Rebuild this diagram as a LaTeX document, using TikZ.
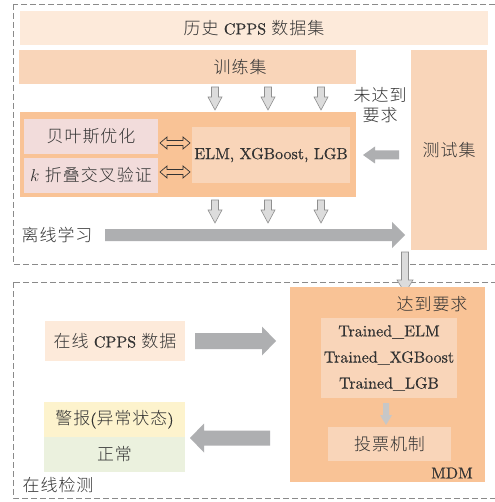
\documentclass[tikz,border=0pt]{standalone}
\usepackage{fontspec}
\setmainfont{lmroman10-regular.otf}[ItalicFont=lmroman10-italic.otf,FakeBold=0.5]
\newfontfamily\cjk[Scale=1.06,LetterSpace=6]{Noto Sans CJK SC Light}
\definecolor{txt}{HTML}{333333}
\definecolor{peachL}{HTML}{FDEADA}
\definecolor{peach}{HTML}{F9D5B9}
\definecolor{orng}{HTML}{F9C396}
\definecolor{pinkb}{HTML}{F2DCDB}
\definecolor{yelb}{HTML}{FDF3CD}
\definecolor{grnb}{HTML}{EBF1DE}
\definecolor{bigarr}{HTML}{AEAFB1}
\definecolor{smallfill}{HTML}{DCDCDC}
\definecolor{smallline}{HTML}{8F8F8F}
\definecolor{dashc}{HTML}{8A8A8A}
\newcommand\DownArr[7]{%
  \path[#7] ({#1-#4},{-#2}) -- ({#1+#4},{-#2}) -- ({#1+#4},{-(#3-#6)}) -- ({#1+#5},{-(#3-#6)}) -- ({#1},{-#3}) -- ({#1-#5},{-(#3-#6)}) -- ({#1-#4},{-(#3-#6)}) -- cycle;}
\newcommand\HArr[7]{%
  \path[#7] ({#1},{-(#3-#4)}) -- ({#2-#6},{-(#3-#4)}) -- ({#2-#6},{-(#3-#5)}) -- ({#2},{-#3}) -- ({#2-#6},{-(#3+#5)}) -- ({#2-#6},{-(#3+#4)}) -- ({#1},{-(#3+#4)}) -- cycle;}
\newcommand\DblArr[6]{% x1 x2 y sw hw hl
  \path[dblarr] ({#1},{-#3}) -- ({#1+#6},{-(#3-#5)}) -- ({#1+#6},{-(#3-#4)}) -- ({#2-#6},{-(#3-#4)}) -- ({#2-#6},{-(#3-#5)}) -- ({#2},{-#3}) -- ({#2-#6},{-(#3+#5)}) -- ({#2-#6},{-(#3+#4)}) -- ({#1+#6},{-(#3+#4)}) -- ({#1+#6},{-(#3+#5)}) -- cycle;}
\begin{document}
\begin{tikzpicture}[x=1pt,y=1pt,
  every node/.style={inner sep=0pt,outer sep=0pt,text=txt,font=\fontsize{16}{19}\selectfont},
  box/.style={anchor=north west},
  dashbox/.style={draw=dashc,line width=0.8pt,dash pattern=on 6pt off 3pt},
  smallarr/.style={fill=smallfill,draw=smallline,line width=0.6pt},
  bigarrow/.style={fill=bigarr},
  innerarr/.style={fill=black!22},
  dblarr/.style={fill=orng,draw=txt,line width=0.7pt}]
\useasboundingbox (0,0) rectangle (494,-502);
\fill[white] (0,0) rectangle (494,-502);
% dashed frames
\draw[dashbox] (13,-4) rectangle (498,-264);
\draw[dashbox] (13,-282) rectangle (498,-498);
% offline part
\node[box,fill=peachL,minimum width=468,minimum height=34] (hist) at (20,-11) {{\cjk 历史} CPPS {\cjk 数据集}};
\node[box,fill=peach,minimum width=337,minimum height=34] (train) at (19,-50) {};
\node (traintxt) at (240,-67) {\cjk 训练集};
\node[box,fill=peach,minimum width=76,minimum height=200] (test) at (411,-50) {\cjk 测试集};
\node[box,fill=orng,minimum width=336,minimum height=85] (cont) at (20,-112) {};
\node[box,fill=pinkb,minimum width=134,minimum height=35] (bayes) at (24,-119) {\cjk 贝叶斯优化};
\node[box,fill=pinkb,minimum width=134,minimum height=35] (kfold) at (24,-158) {$k$ {\cjk 折叠交叉验证}};
\node[box,fill=peach,minimum width=158,minimum height=56] (elm) at (192,-127) {\raisebox{2pt}{ELM, XGBoost, LGB}};
\DownArr{215}{87}{110}{3.5}{7}{13}{smallarr}
\DownArr{268}{87}{110}{3.5}{7}{13}{smallarr}
\DownArr{321}{87}{110}{3.5}{7}{13}{smallarr}
\DblArr{160}{190}{143}{2.5}{6}{7}
\DblArr{160}{190}{172}{2.5}{6}{7}
\node[align=center,font=\fontsize{16}{20}\selectfont] (fail) at (380,-105) {\cjk 未达到\\\cjk 要求};
\HArr{399}{363}{155}{4.5}{8.5}{-12}{bigarrow}
\DownArr{215}{200}{223}{3.5}{7}{13}{smallarr}
\DownArr{268}{200}{223}{3.5}{7}{13}{smallarr}
\DownArr{321}{200}{223}{3.5}{7}{13}{smallarr}
\node (offline) at (57,-235) {\cjk 离线学习};
\HArr{105}{405}{235}{6}{13}{13}{bigarrow}
\DownArr{405}{252}{293}{3.5}{8}{13}{smallarr}
% online part
\node[box,fill=orng,minimum width=195,minimum height=195] (mdm) at (290,-287) {};
\node (reach) at (432,-304) {\cjk 达到要求};
\node[box,fill=peach,minimum width=136,minimum height=80] (trained) at (321,-318) {};
\node (t1) at (389,-332) {Trained\_ELM};
\node (t2) at (389,-358) {Trained\_XGBoost};
\node (t3) at (389,-384) {Trained\_LGB};
\DownArr{386}{403}{425}{3}{6}{10}{innerarr}
\node[box,fill=peach,minimum width=123,minimum height=34] (vote) at (328,-427) {\cjk 投票机制};
\node (mdmtxt) at (452,-473) {MDM};
\node[box,fill=peachL,minimum width=140,minimum height=40] (online) at (45,-321) {{\cjk 在线} CPPS {\cjk 数据}};
\HArr{195}{276}{341}{8}{14.5}{14}{bigarrow}
\node[box,fill=yelb,minimum width=141,minimum height=35] (alarm) at (44,-402) {{\cjk 警报}({\cjk 异常状态})};
\node[box,fill=grnb,minimum width=141,minimum height=35] (normal) at (44,-437) {\cjk 正常};
\HArr{270}{190}{438}{7.5}{14.5}{-14}{bigarrow}
\node (onlinedet) at (58,-485) {\cjk 在线检测};
\end{tikzpicture}
\end{document}
